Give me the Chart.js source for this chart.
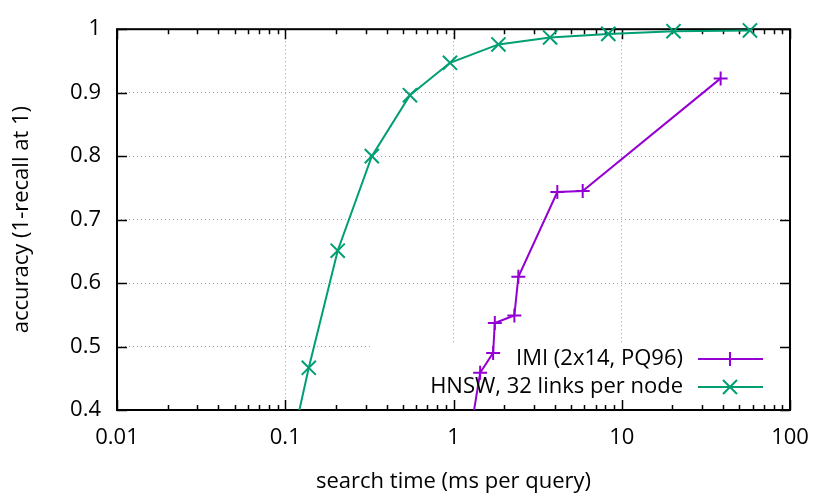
<!DOCTYPE html>
<html lang="en">
<head>
    <meta charset="UTF-8">
    <title>HNSW vs IMI - accuracy vs search time</title>
    <script src="https://cdn.jsdelivr.net/npm/chart.js"></script>
    <style>
        body {
            margin: 0;
            padding: 0;
            background: #fff;
        }
        #wrap {
            width: 830px;
            height: 498px;
        }
    </style>
</head>
<body>
    <div id="wrap"><canvas id="chart"></canvas></div>

    <script>
        // (first point of each series sits below the axis, so the line runs out of frame)
        const imiTime = [1.2, 1.44, 1.72, 1.76, 2.30, 2.43, 4.14, 5.86, 38.7];
        const imiAcc = [0.33, 0.4586, 0.490, 0.537, 0.549, 0.610, 0.7435, 0.745, 0.9225];

        const hnswTime = [0.1, 0.138, 0.205, 0.327, 0.551, 0.953, 1.85, 3.75, 8.32, 20.3, 57.8];
        const hnswAcc = [0.30, 0.4665, 0.651, 0.80, 0.896, 0.947, 0.976, 0.987, 0.9926, 0.9968, 0.998];

        const xTicks = [0.01, 0.1, 1, 10, 100];
        const yTicks = [0.4, 0.5, 0.6, 0.7, 0.8, 0.9, 1];

        const seriesLabels = ["IMI (2x14, PQ96)", "HNSW, 32 links per node"];
        const xTitle = "search time (ms per query)";
        const yTitle = "accuracy (1-recall at 1)";

        const FONT = "'Open Sans', 'Noto Sans', sans-serif";
        const FONT_SIZE = 22;
        const PURPLE = "#9400d3";
        const GREEN = "#009e73";

        function toPoints(xs, ys) {
            return xs.map((x, i) => ({ x: x, y: ys[i] }));
        }

        function drawMarker(ctx, style, x, y) {
            ctx.beginPath();
            if (style === "cross") {
                ctx.moveTo(x - 7, y); ctx.lineTo(x + 7, y);
                ctx.moveTo(x, y - 7); ctx.lineTo(x, y + 7);
            } else {
                ctx.moveTo(x - 7, y - 7); ctx.lineTo(x + 7, y + 7);
                ctx.moveTo(x - 7, y + 7); ctx.lineTo(x + 7, y - 7);
            }
            ctx.stroke();
        }

        // frame, inward ticks and the blank area behind the key (gnuplot style)
        const framePlugin = {
            id: "frame",
            beforeDatasetsDraw(chart) {
                const ctx = chart.ctx;
                const a = chart.chartArea;
                const xs = chart.scales.x, ys = chart.scales.y;

                ctx.save();
                ctx.fillStyle = "#fff";
                ctx.fillRect(a.left + 255, a.bottom - 66, a.right - a.left - 255, 66);

                ctx.strokeStyle = "#000";
                ctx.lineWidth = 1.5;
                ctx.beginPath();
                for (let d = 0; d < xTicks.length; d++) {
                    const px = Math.round(xs.getPixelForValue(xTicks[d])) + 0.5;
                    ctx.moveTo(px, a.bottom); ctx.lineTo(px, a.bottom - 10);
                    ctx.moveTo(px, a.top); ctx.lineTo(px, a.top + 10);
                    if (d < xTicks.length - 1) {
                        for (let k = 2; k < 10; k++) {
                            const mx = Math.round(xs.getPixelForValue(xTicks[d] * k)) + 0.5;
                            ctx.moveTo(mx, a.bottom); ctx.lineTo(mx, a.bottom - 5);
                            ctx.moveTo(mx, a.top); ctx.lineTo(mx, a.top + 5);
                        }
                    }
                }
                yTicks.forEach(v => {
                    const py = Math.round(ys.getPixelForValue(v)) + 0.5;
                    ctx.moveTo(a.left, py); ctx.lineTo(a.left + 10, py);
                    ctx.moveTo(a.right, py); ctx.lineTo(a.right - 10, py);
                });
                ctx.stroke();

                ctx.lineWidth = 2;
                ctx.strokeRect(a.left, a.top, a.right - a.left, a.bottom - a.top);
                ctx.restore();
            },
            afterDraw(chart) {
                const ctx = chart.ctx;
                const a = chart.chartArea;
                const rows = [
                    { label: seriesLabels[0], color: PURPLE, marker: "cross" },
                    { label: seriesLabels[1], color: GREEN, marker: "crossRot" }
                ];
                ctx.save();
                ctx.font = FONT_SIZE + "px " + FONT;
                ctx.textAlign = "right";
                ctx.textBaseline = "middle";
                rows.forEach((r, i) => {
                    const y = a.bottom - 51 + i * 28;
                    ctx.fillStyle = "#000";
                    ctx.fillText(r.label, a.right - 107, y);
                    ctx.strokeStyle = r.color;
                    ctx.lineWidth = 2;
                    ctx.beginPath();
                    ctx.moveTo(a.right - 92, y); ctx.lineTo(a.right - 27, y);
                    ctx.stroke();
                    drawMarker(ctx, r.marker, a.right - 60, y);
                });
                ctx.restore();
            }
        };

        const ctx = document.getElementById("chart").getContext("2d");
        new Chart(ctx, {
            type: "line",
            data: {
                datasets: [{
                    label: seriesLabels[0],
                    data: toPoints(imiTime, imiAcc),
                    borderColor: PURPLE,
                    backgroundColor: PURPLE,
                    borderWidth: 2,
                    pointStyle: "cross",
                    pointRadius: 7,
                    pointBorderWidth: 2,
                    clip: { left: 0, top: 12, right: 12, bottom: 0 }
                }, {
                    label: seriesLabels[1],
                    data: toPoints(hnswTime, hnswAcc),
                    borderColor: GREEN,
                    backgroundColor: GREEN,
                    borderWidth: 2,
                    pointStyle: "crossRot",
                    pointRadius: 10,
                    pointBorderWidth: 2,
                    clip: { left: 0, top: 12, right: 12, bottom: 0 }
                }]
            },
            options: {
                responsive: true,
                maintainAspectRatio: false,
                animation: false,
                layout: { padding: { top: 28, right: 40, left: 0, bottom: 0 } },
                plugins: {
                    legend: { display: false },
                    tooltip: { enabled: false }
                },
                scales: {
                    x: {
                        type: "logarithmic",
                        min: 0.01,
                        max: 100,
                        afterBuildTicks: s => { s.ticks = xTicks.map(v => ({ value: v })); },
                        afterFit: s => { s.height = 88; },
                        grid: { color: "#a0a0a0", lineWidth: 1, drawTicks: false },
                        border: { display: false, dash: [1, 3] },
                        ticks: {
                            padding: 15,
                            maxRotation: 0,
                            color: "#000",
                            font: { family: FONT, size: FONT_SIZE },
                            callback: v => String(v)
                        },
                        title: {
                            display: true,
                            text: xTitle,
                            color: "#000",
                            font: { family: FONT, size: FONT_SIZE },
                            padding: { top: 0, bottom: 3 }
                        }
                    },
                    y: {
                        min: 0.4,
                        max: 1,
                        afterBuildTicks: s => { s.ticks = yTicks.map(v => ({ value: v })); },
                        afterFit: s => { s.width = 117; },
                        grid: { color: "#a0a0a0", lineWidth: 1, drawTicks: false },
                        border: { display: false, dash: [1, 3] },
                        ticks: {
                            padding: 16,
                            color: "#000",
                            font: { family: FONT, size: FONT_SIZE },
                            callback: v => String(+v.toFixed(1))
                        },
                        title: {
                            display: true,
                            text: yTitle,
                            color: "#000",
                            font: { family: FONT, size: FONT_SIZE },
                            padding: { top: 9, bottom: 0 }
                        }
                    }
                }
            },
            plugins: [framePlugin]
        });
    </script>
</body>
</html>
